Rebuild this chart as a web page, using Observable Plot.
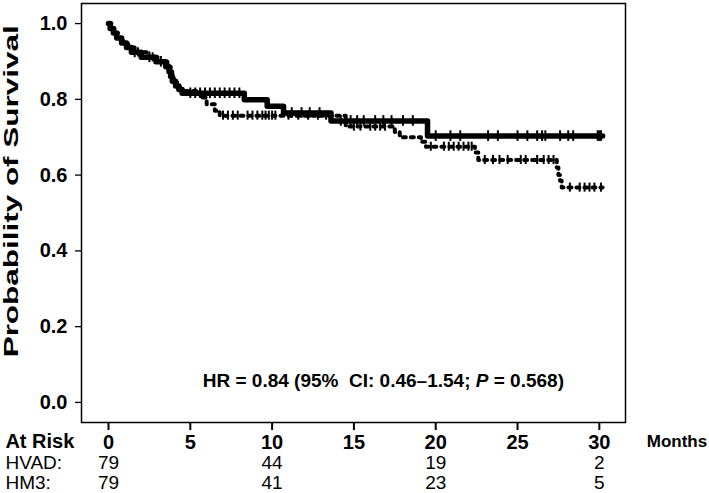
<!DOCTYPE html>
<html>
<head>
<meta charset="utf-8">
<script src="https://cdn.jsdelivr.net/npm/d3@7"></script>
<script src="https://cdn.jsdelivr.net/npm/@observablehq/plot@0.6"></script>
<style>
  html, body { margin: 0; padding: 0; background: white; }
</style>
</head>
<body>
<div id="chart"></div>
<script>
const monthTicks = [0, 5, 10, 15, 20, 25, 30];
const survTicks = [0, 0.2, 0.4, 0.6, 0.8, 1.0];

// Solid curve: event times (months) and survival after each step
const solidTimes = [0.1, 0.3, 0.5, 0.8, 1.1, 1.4, 2.0, 2.9, 3.5, 3.7, 3.8, 3.9, 4.1, 4.3, 4.5, 8.3, 9.7, 10.7, 13.6, 19.5];
const solidSurv  = [0.987, 0.975, 0.962, 0.949, 0.937, 0.924, 0.911, 0.899, 0.886, 0.873, 0.860, 0.848, 0.835, 0.826, 0.816, 0.799, 0.782, 0.764, 0.743, 0.703];
const solidEnd = 30.2;
const solidCensor = [1.6, 2.5, 3.2, 5.0, 5.3, 5.6, 5.9, 6.2, 6.5, 6.8, 7.1, 7.4, 7.7, 8.0, 11.2, 11.8, 12.3, 12.9, 14.2, 14.8, 15.2, 15.6, 16.3, 16.8, 17.3, 18.0, 18.6, 20.0, 20.9, 21.5, 23.2, 23.8, 25.0, 25.6, 26.2, 26.5, 26.7, 27.6, 28.1, 28.4, 29.9, 30.0, 30.1];

// Dotted curve
const dottedTimes = [0.2, 0.4, 0.6, 0.9, 1.2, 1.6, 2.4, 3.0, 3.6, 3.8, 3.9, 4.0, 4.2, 4.4, 5.6, 6.0, 6.5, 6.8, 14.5, 17.5, 17.8, 19.1, 19.4, 22.4, 22.6, 27.4, 27.5, 27.6, 27.7];
const dottedSurv  = [0.987, 0.975, 0.962, 0.949, 0.937, 0.924, 0.911, 0.899, 0.886, 0.873, 0.860, 0.848, 0.835, 0.822, 0.805, 0.787, 0.770, 0.757, 0.728, 0.714, 0.700, 0.688, 0.675, 0.660, 0.640, 0.620, 0.600, 0.585, 0.567];
const dottedEnd = 30.2;
const dottedCensor = [1.8, 2.7, 7.0, 7.3, 7.6, 7.9, 8.5, 8.8, 9.1, 9.4, 9.6, 9.8, 10.0, 10.2, 11.0, 11.6, 12.2, 12.8, 13.3, 15.0, 15.4, 16.0, 16.3, 16.6, 16.9, 19.7, 20.5, 20.8, 21.1, 21.4, 21.7, 22.0, 22.2, 23.0, 23.5, 23.9, 24.4, 25.2, 25.5, 26.2, 26.6, 26.9, 27.2, 28.2, 28.8, 29.1, 29.4, 29.7, 30.1];

// At-risk table
const riskMonths = [0, 10, 20, 30];
const hvadRisk = [79, 44, 19, 2];
const hm3Risk = [79, 41, 23, 5];

function stepPoints(times, survs, end) {
  const pts = [{t: 0, s: 1}];
  times.forEach((t, i) => pts.push({t, s: survs[i]}));
  pts.push({t: end, s: survs[survs.length - 1]});
  return pts;
}
function survAt(times, survs, t) {
  let s = 1;
  for (let i = 0; i < times.length; i++) if (times[i] <= t) s = survs[i];
  return s;
}
const solidPts = stepPoints(solidTimes, solidSurv, solidEnd);
const dottedPts = stepPoints(dottedTimes, dottedSurv, dottedEnd);
const solidCens = solidCensor.map(t => ({t, s: survAt(solidTimes, solidSurv, t)}));
const dottedCens = dottedCensor.map(t => ({t, s: survAt(dottedTimes, dottedSurv, t)}));

const hvadRows = riskMonths.map((m, i) => ({m, n: hvadRisk[i]}));
const hm3Rows = riskMonths.map((m, i) => ({m, n: hm3Risk[i]}));

const chart = Plot.plot({
  width: 709,
  height: 493,
  marginLeft: 81,
  marginRight: 84,
  marginTop: 3,
  marginBottom: 71,
  x: {domain: [-1.65, 31.6]},
  y: {domain: [-0.053, 1.053]},
  style: {fontFamily: "'Liberation Sans', Arial, sans-serif", fontSize: "20px", fontWeight: "bold", background: "white", color: "black"},
  marks: [
    Plot.axisY(survTicks, {tickSize: 6, tickPadding: 8, tickFormat: d3.format(".1f"), label: null, fontSize: 20, fontWeight: "bold", strokeWidth: 1.3}),
    Plot.axisX(monthTicks, {tickSize: 8, tickPadding: 4, label: null, fontSize: 20, fontWeight: "bold", strokeWidth: 2}),
    Plot.line(dottedPts, {x: "t", y: "s", curve: "step-after", stroke: "black", strokeWidth: 4, strokeDasharray: "3,5"}),
    Plot.line(solidPts, {x: "t", y: "s", curve: "step-after", stroke: "black", strokeWidth: 5.5}),
    Plot.ruleX(dottedCens, {x: "t", y1: d => d.s - 0.012, y2: d => d.s + 0.012, stroke: "black", strokeWidth: 2}),
    Plot.ruleX(solidCens, {x: "t", y1: d => d.s - 0.014, y2: d => d.s + 0.014, stroke: "black", strokeWidth: 2}),
    Plot.frame({stroke: "black", strokeWidth: 1.5}),
    Plot.text(["HR = 0.84 (95%  CI: 0.46–1.54; P = 0.568)"], {x: 16.8, y: 0.056, text: d => d, fontSize: 19, fontWeight: "bold", textAnchor: "middle"}),
    Plot.text(["Probability of Survival"], {x: -5.95, y: 0.119, text: d => d, rotate: -90, fontSize: 20, fontWeight: "bold", textAnchor: "start", lineAnchor: "middle"}),
    Plot.text(["At Risk"], {x: -6.3, y: -0.103, text: d => d, fontSize: 20, fontWeight: "bold", textAnchor: "start", lineAnchor: "middle"}),
    Plot.text(["Months"], {x: 32.9, y: -0.103, text: d => d, fontSize: 17, fontWeight: "bold", textAnchor: "start", lineAnchor: "middle"}),
    Plot.text(["HVAD:"], {x: -6.3, y: -0.159, text: d => d, fontSize: 19, fontWeight: "normal", textAnchor: "start", lineAnchor: "middle"}),
    Plot.text(["HM3:"], {x: -6.3, y: -0.2116, text: d => d, fontSize: 19, fontWeight: "normal", textAnchor: "start", lineAnchor: "middle"}),
    Plot.text(hvadRows, {x: "m", y: -0.159, text: "n", fontSize: 19, fontWeight: "normal", textAnchor: "middle", lineAnchor: "middle"}),
    Plot.text(hm3Rows, {x: "m", y: -0.2116, text: "n", fontSize: 19, fontWeight: "normal", textAnchor: "middle", lineAnchor: "middle"})
  ]
});
document.getElementById("chart").appendChild(chart);

const allTexts = [...chart.querySelectorAll("text")];
function findText(s) { return allTexts.find(t => t.textContent === s); }

// Stretch y label to the reference's length
const yl = findText("Probability of Survival");
if (yl) { yl.setAttribute("textLength", 332); yl.setAttribute("lengthAdjust", "spacingAndGlyphs"); }

// Italic P in the HR annotation
const hr = findText("HR = 0.84 (95%  CI: 0.46–1.54; P = 0.568)");
if (hr) {
  hr.textContent = "";
  hr.style.whiteSpace = "pre";
  const parts = [["HR = 0.84 (95%  CI: 0.46–1.54; ", "normal"], ["P", "italic"], [" = 0.568)", "normal"]];
  for (const [txt, st] of parts) {
    const ts = document.createElementNS("http://www.w3.org/2000/svg", "tspan");
    ts.textContent = txt;
    ts.style.fontStyle = st;
    hr.appendChild(ts);
  }
}
</script>
</body>
</html>
